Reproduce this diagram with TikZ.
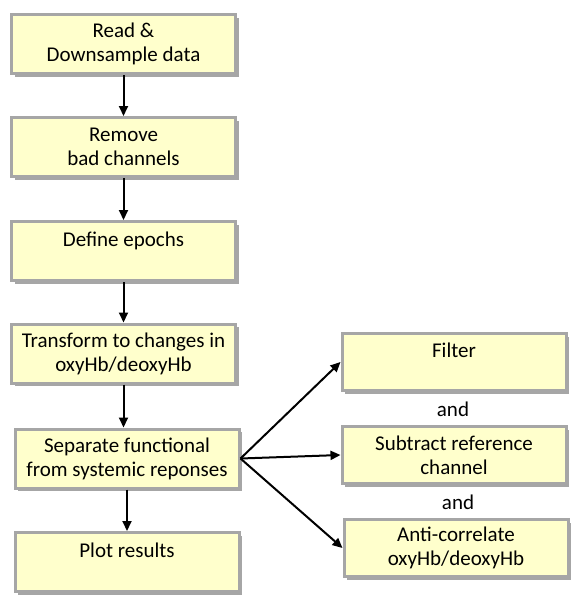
\documentclass[tikz,border=0pt]{standalone}
\usepackage{fontspec}
\setmainfont{Carlito}
\usetikzlibrary{shadows,arrows.meta,positioning}
\definecolor{boxfill}{HTML}{FFFFCC}
\definecolor{boxline}{HTML}{A6A6A6}

\begin{document}
\begin{tikzpicture}[x=1pt, y=-1pt, font=\fontsize{21}{24}\selectfont,
	stepbox/.style={draw=boxline, line width=3pt, fill=boxfill, minimum width=224pt, minimum height=59pt, align=center, inner sep=2pt, drop shadow={shadow xshift=3pt, shadow yshift=-3pt, fill=black!50, opacity=.7}},
	flow/.style={line width=2pt, -{Triangle[length=10pt, width=9pt]}}]
			\useasboundingbox (0,0) rectangle (587,611);
			\node[stepbox] (read) at (123.5,44) {Read \&\\Downsample data};
			\node[stepbox] (remove) at (123.5,147) {Remove\\bad channels};
			\node[stepbox] (epochs) at (123.5,251) {Define epochs\\\mbox{}};
			\node[stepbox] (transform) at (123.5,353.5) {Transform to changes in\\oxyHb/deoxyHb};
			\node[stepbox] (separate) at (127,458.5) {Separate functional\\from systemic reponses};
			\node[stepbox] (plot) at (127,562) {Plot results\\\mbox{}};
			\node[stepbox, minimum height=57pt] (filter) at (454,362) {Filter\\\mbox{}};
			\node[stepbox, minimum height=57pt] (subtract) at (454,455) {Subtract reference\\channel};
			\node[stepbox, minimum height=57pt] (anticorr) at (456,548) {Anti-correlate\\oxyHb/deoxyHb};
			\node (and1) at (453,409) {and};
			\node (and2) at (458,502) {and};
			\draw[flow] (read) -- (remove);
			\draw[flow] (remove) -- (epochs);
			\draw[flow] (epochs) -- (transform);
			\draw[flow] (transform) -- (transform |- separate.north);
			\draw[flow] (separate) -- (plot);
			\draw[flow] (separate.east) -- (filter.west);
			\draw[flow] (separate.east) -- (subtract.west);
			\draw[flow] (separate.east) -- (anticorr.west);
\end{tikzpicture}
\end{document}
